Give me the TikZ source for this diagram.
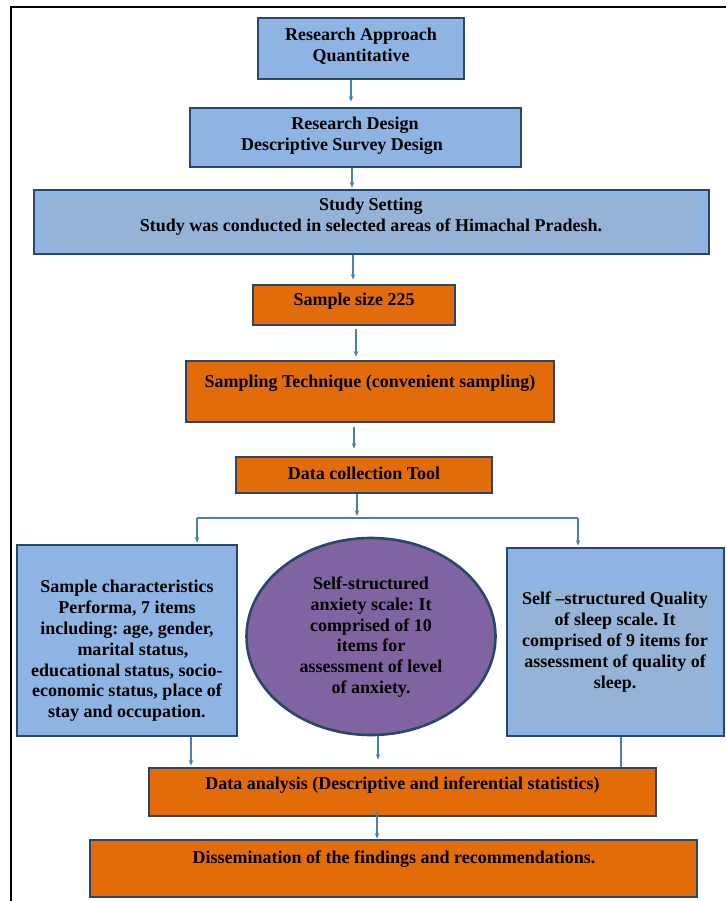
\documentclass[tikz,border=0pt]{standalone}
\usepackage{fontspec}
\setmainfont{Liberation Serif}
\usetikzlibrary{arrows.meta,shapes.geometric}
\definecolor{boxblue}{HTML}{8EB4E3}
\definecolor{innerblue}{HTML}{95B3D7}
\definecolor{boxorange}{HTML}{E36C0A}
\definecolor{ellpurple}{HTML}{8064A2}
\definecolor{edgecol}{HTML}{2A4668}
\definecolor{arrowblue}{HTML}{4A7EBB}
\frenchspacing
\begin{document}
\begin{tikzpicture}[x=1pt,y=-1pt,
  box/.style={draw=edgecol,line width=2.8pt,inner sep=0pt,rectangle},
  bluebox/.style={box,fill=boxblue},
  orangebox/.style={box,fill=boxorange},
  txt/.style={inner sep=0pt,align=center,font=\fontsize{18}{20.8}\selectfont\bfseries,text=black},
  arr/.style={draw=arrowblue,line width=1.1pt,-{Stealth[length=5.5pt,width=4.5pt]}},
  link/.style={draw=arrowblue,line width=1.1pt}]

\useasboundingbox (0,0) rectangle (726,901);
\fill[white] (0,0) rectangle (726,901);
\draw[line width=2.5pt,line join=miter] (11,901) -- (11,7) -- (726,7);

% boxes
\node[bluebox,minimum width=206pt,minimum height=61pt] (b1) at (361,48.5) {};
\node[bluebox,minimum width=331pt,minimum height=59pt] (b2) at (355.5,137.5) {};
\node[bluebox,minimum width=675pt,minimum height=64pt] (b3) at (371.5,222) {};
\node[orangebox,minimum width=202pt,minimum height=40pt] (b4) at (354,305) {};
\node[orangebox,minimum width=368pt,minimum height=61pt] (b5) at (370,391.5) {};
\node[orangebox,minimum width=256pt,minimum height=36pt] (b6) at (364,475) {};
\node[bluebox,minimum width=220pt,minimum height=191pt] (lbox) at (127,640.5) {};
\node[draw=edgecol,line width=2.6pt,fill=ellpurple,ellipse,inner sep=0pt,minimum width=249pt,minimum height=197pt] (ell) at (371,636.5) {};
\node[bluebox,minimum width=217pt,minimum height=188pt] (rbox) at (615.5,642) {};
\node[orangebox,minimum width=507pt,minimum height=48pt] (da) at (402.5,792) {};
\node[orangebox,minimum width=607pt,minimum height=57pt] (dis) at (393.5,868.5) {};

% inner tint
\fill[innerblue] (43,197) rectangle (698,247);
\fill[innerblue] (516,590) rectangle (713,727);

% texts
\node[txt] (t1) at (361,46) {Research Approach\\Quantitative};
\node[txt] (t2) at (355,136) {Research Design\\Descriptive Survey Design\hspace*{26pt}};
\node[txt] (t3) at (371,217) {Study Setting\\Study was conducted in selected areas of Himachal Pradesh.};
\node[txt] (t4) at (354,301) {Sample size 225};
\node[txt] (t5) at (370,383) {Sampling Technique (convenient sampling)};
\node[txt] (t6) at (364,473) {Data collection Tool};
\node[txt] (tl) at (127,651) {Sample characteristics\\Performa, 7 items\\including: age, gender,\\\hspace*{12pt}marital status,\\educational status, socio-\\economic status, place of\\stay and occupation.};
\node[txt] (te) at (371,637) {Self-structured\\anxiety scale: It\\comprised of 10\\items for\\assessment of level\\of anxiety.};
\node[txt] (tr) at (615,642) {Self –structured Quality\\of sleep scale. It\\comprised of 9 items for\\assessment of quality of\\sleep.};
\node[txt] (td) at (402.5,785) {Data analysis (Descriptive and inferential statistics)};
\node[txt] (tn) at (394,859) {Dissemination of the findings and recommendations.};

% helper coordinates
\coordinate (c1) at (351,0);
\coordinate (c2) at (352,0);
\coordinate (c3) at (353,0);
\coordinate (c4) at (356,0);
\coordinate (c5) at (354,0);
\coordinate (barM) at (357,518);
\coordinate (barL) at (197,518);
\coordinate (barR) at (578,518);
\coordinate (cL) at (191,0);
\coordinate (cM) at (378,0);
\coordinate (cR) at (621,0);
\coordinate (cD) at (377,0);

% connectors
\draw[arr,shorten >=5pt] (b1.south -| c1) -- (b2.north -| c1);
\draw[arr,shorten >=1pt] (b2.south -| c2) -- (b3.north -| c2);
\draw[arr,shorten >=4pt] (b3.south -| c3) -- (b4.north -| c3);
\draw[arr,shorten <=3pt,shorten >=3pt] (b4.south -| c4) -- (b5.north -| c4);
\draw[arr,shorten <=4pt,shorten >=7pt] (b5.south -| c5) -- (b6.north -| c5);
\draw[arr,shorten >=2pt] (b6.south -| barM) -- (barM);
\draw[link] (barL) -- (barR);
\draw[arr,shorten >=1pt] (barL) -- (lbox.north -| barL);
\draw[arr,shorten >=1pt] (barR) -- (rbox.north -| barR);
\draw[arr,shorten >=1pt] (lbox.south -| cL) -- (da.north -| cL);
\draw[arr,shorten >=7pt] (ell.south -| cM) -- (da.north -| cM);
\draw[link] (rbox.south -| cR) -- (da.north -| cR);
\draw[arr,shorten <=-5pt] (da.south -| cD) -- (dis.north -| cD);
\end{tikzpicture}
\end{document}
